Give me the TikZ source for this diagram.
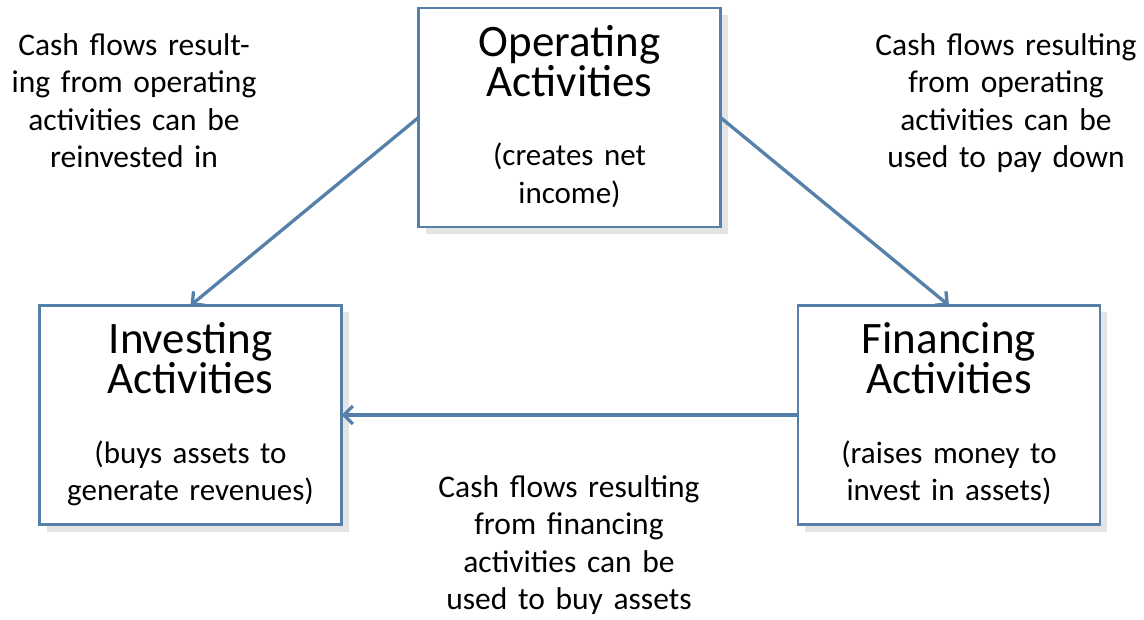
\documentclass[tikz,border=0pt]{standalone}
\usepackage{fontspec}
\setmainfont{Carlito}
\newfontfamily\sidefont{Carlito}[WordSpace=2.0]
\newfontfamily\subfont{Carlito}[WordSpace=1.5]
\usetikzlibrary{arrows.meta,shadows,calc}
\definecolor{edgeblue}{HTML}{5580AA}
\definecolor{shadegray}{HTML}{E4E4E4}
\newcommand\firststrut{\rule{0pt}{40pt}}
\begin{document}
\begin{tikzpicture}[x=1pt,y=-1pt,
  actbox/.style={draw=edgeblue, line width=2.5pt, fill=white,
    minimum width=302pt, minimum height=219pt, inner sep=0pt, outer sep=0pt,
    drop shadow={shadow xshift=7pt, shadow yshift=-7pt, fill=shadegray, opacity=1}},
  titletxt/.style={align=center, inner sep=0pt, anchor=north,
    font=\fontsize{45}{37.5}\selectfont},
  subtxt/.style={align=center, inner sep=0pt, anchor=north,
    font=\subfont\fontsize{31}{37.5}\selectfont},
  sidetxt/.style={align=center, inner sep=0pt, anchor=north,
    font=\sidefont\fontsize{31.5}{37.5}\selectfont},
  conn/.style={draw=edgeblue, line width=3.3pt,
    -{Straight Barb[length=9pt,width=18pt]}}]
\useasboundingbox (0,0) rectangle (1144,620);

\node[actbox] (op)  at (569.5,117.5) {};
\node[actbox] (inv) at (190.5,415) {};
\node[actbox] (fin) at (949,415) {};

\node[titletxt] (optitle)  at ($(op.north)+(0,8)$)  {\firststrut Operating\\Activities};
\node[subtxt]   (opsub)    at ($(op.north)+(0,117.5)$) {\firststrut(creates net\\income)};
\node[titletxt] (invtitle) at ($(inv.north)+(0,8)$) {\firststrut Investing\\Activities};
\node[subtxt]   (invsub)   at ($(inv.north)+(0,117.5)$) {\firststrut(buys assets to\\generate revenues)};
\node[titletxt] (fintitle) at ($(fin.north)+(0,8)$) {\firststrut Financing\\Activities};
\node[subtxt]   (finsub)   at ($(fin.north)+(0,117.5)$) {\firststrut(raises money to\\invest in assets)};

\node[sidetxt] (lefttxt)   at (134,15)  {\firststrut Cash flows result-\\ing from operating\\activities can be\\reinvested in};
\node[sidetxt] (righttxt)  at (1006,15) {\firststrut Cash flows resulting\\from operating\\activities can be\\used to pay down};
\node[sidetxt] (bottomtxt) at (569,457) {\firststrut Cash flows resulting\\from financing\\activities can be\\used to buy assets};

\draw[conn] (op.west) -- (inv.north);
\draw[conn] (op.east) -- (fin.north);
\draw[conn] (fin.west) -- (inv.east);
\end{tikzpicture}
\end{document}
